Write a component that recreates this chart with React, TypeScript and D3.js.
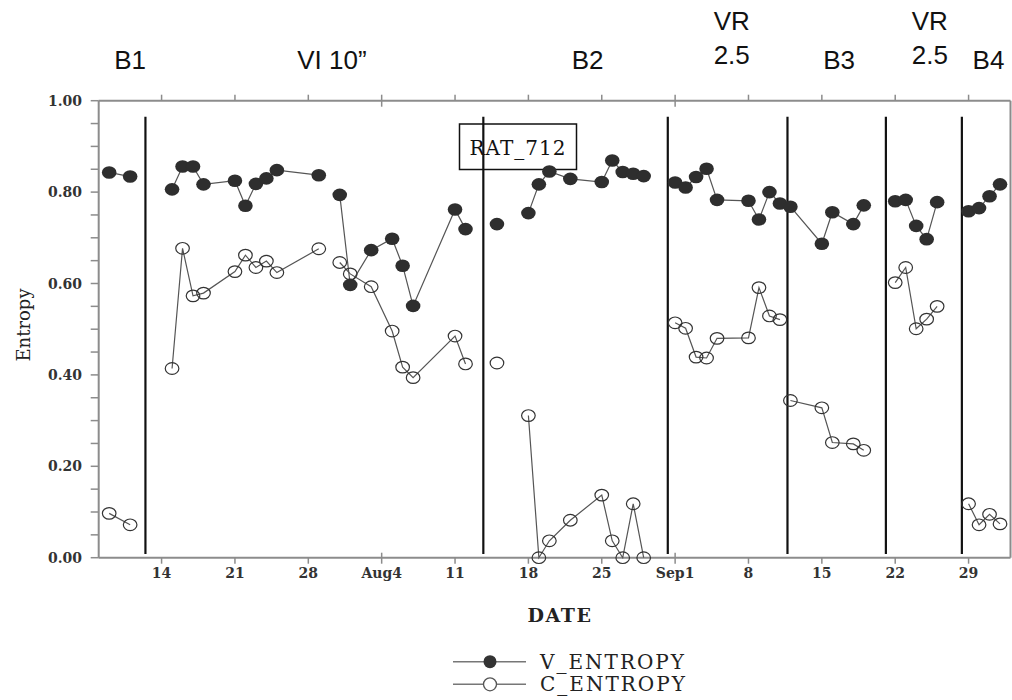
import React from "react";
import * as d3 from "d3";

// ---------- data ----------
// null entries mark a break in the connecting line
const sessionDates: (string | null)[] = [
  "07-09", "07-11", null,
  "07-15", "07-16", "07-17", "07-18", "07-21", "07-22", "07-23", "07-24", "07-25", "07-29", null,
  "07-31", "08-01", "08-03", "08-05", "08-06", "08-07", "08-11", "08-12", null,
  "08-15", null,
  "08-18", "08-19", "08-20", "08-22", "08-25", "08-26", "08-27", "08-28", "08-29", null,
  "09-01", "09-02", "09-03", "09-04", "09-05", "09-08", "09-09", "09-10", "09-11", null,
  "09-12", "09-15", "09-16", "09-18", "09-19", null,
  "09-22", "09-23", "09-24", "09-25", "09-26", null,
  "09-29", "09-30", "10-01", "10-02",
];

const vEntropy: (number | null)[] = [
  0.843, 0.834, null,
  0.806, 0.856, 0.856, 0.817, 0.825, 0.770, 0.818, 0.830, 0.848, 0.837, null,
  0.794, 0.597, 0.673, 0.698, 0.639, 0.551, 0.762, 0.719, null,
  0.730, null,
  0.754, 0.817, 0.845, 0.829, 0.822, 0.869, 0.844, 0.840, 0.835, null,
  0.821, 0.810, 0.833, 0.851, 0.783, 0.781, 0.740, 0.800, 0.775, null,
  0.768, 0.687, 0.756, 0.730, 0.771, null,
  0.780, 0.783, 0.726, 0.697, 0.778, null,
  0.758, 0.765, 0.791, 0.817,
];

const cEntropy: (number | null)[] = [
  0.097, 0.072, null,
  0.414, 0.677, 0.573, 0.579, 0.626, 0.662, 0.635, 0.649, 0.624, 0.676, null,
  0.646, 0.621, 0.593, 0.496, 0.417, 0.394, 0.485, 0.424, null,
  0.426, null,
  0.311, 0.0, 0.037, 0.082, 0.137, 0.037, 0.0, 0.118, 0.0, null,
  0.514, 0.502, 0.439, 0.437, 0.480, 0.481, 0.591, 0.529, 0.521, null,
  0.344, 0.328, 0.252, 0.249, 0.235, null,
  0.602, 0.635, 0.501, 0.522, 0.550, null,
  0.118, 0.072, 0.095, 0.074,
];

// phase change lines (day.fraction)
const phaseBoundaries = ["07-12.46", "08-13.70", "08-31.30", "09-11.72", "09-21.11", "09-28.36"];
const phaseNames = ["B1", "VI 10\u201D", "B2", "VR\n2.5", "B3", "VR\n2.5", "B4"];
const phaseLabelDates = ["07-11.0", "07-30.25", "08-23.65", "09-06.4", "09-16.65", "09-25.3", "09-30.9"];

const xTickDates = ["07-14", "07-21", "07-28", "08-04", "08-11", "08-18", "08-25", "09-01", "09-08", "09-15", "09-22", "09-29"];
const xTickLabels = ["14", "21", "28", "Aug4", "11", "18", "25", "Sep1", "8", "15", "22", "29"];
const monthStartTicks = ["08-04", "09-01"];
const yTickValues = [0, 0.2, 0.4, 0.6, 0.8, 1.0];
const yMinorValues = d3.range(0, 1.0001, 0.05);

const xDomain = ["07-08", "10-03"];
const seriesNames = ["V_ENTROPY", "C_ENTROPY"];
const boxLabel = "RAT_712";

// ---------- helpers ----------
const YEAR = 2008;
function toDate(s: string): Date {
  const [m, dRaw] = s.split("-");
  const d = parseFloat(dRaw);
  const day = Math.floor(d);
  const frac = d - day;
  return new Date(Date.UTC(YEAR, parseInt(m, 10) - 1, day) + frac * 86400000);
}

const AXIS = "#8c8c8c";
const SERIF = "'DejaVu Serif', serif";
const SANS = "'Liberation Sans', Arial, sans-serif";

export default function App() {
  const left = 98.7, right = 1010.5, top = 100.7, bottom = 557.7;
  const x = d3.scaleUtc().domain(xDomain.map(toDate)).range([left, right]);
  const y = d3.scaleLinear().domain([0, 1]).range([bottom, top]);

  type P = { d: Date; v: number | null };
  const makeSegments = (vals: (number | null)[]) => {
    const segs: { d: Date; v: number }[][] = [];
    let cur: { d: Date; v: number }[] = [];
    sessionDates.forEach((ds, i) => {
      const v = vals[i];
      if (ds === null || v === null) {
        if (cur.length) segs.push(cur);
        cur = [];
      } else {
        cur.push({ d: toDate(ds), v });
      }
    });
    if (cur.length) segs.push(cur);
    return segs;
  };
  const vSegs = makeSegments(vEntropy);
  const cSegs = makeSegments(cEntropy);
  const line = d3
    .line<{ d: Date; v: number }>()
    .x((p) => x(p.d))
    .y((p) => y(p.v));

  const monthSet = new Set(monthStartTicks);

  return (
    <svg
      width={1012}
      height={700}
      style={{ position: "absolute", left: 0, top: 0, background: "#fff" }}
    >
      <rect x={0} y={0} width={1012} height={700} fill="#fff" />

      {/* phase labels */}
      {phaseNames.map((name, i) => {
        const cx = x(toDate(phaseLabelDates[i]));
        const parts = name.split("\n");
        if (parts.length === 1)
          return (
            <text key={i} x={cx} y={69} textAnchor="middle" fontFamily={SANS} fontSize={26} fill="#111">
              {name}
            </text>
          );
        return (
          <g key={i}>
            <text x={cx} y={30} textAnchor="middle" fontFamily={SANS} fontSize={26} fill="#111">
              {parts[0]}
            </text>
            <text x={cx} y={64} textAnchor="middle" fontFamily={SANS} fontSize={26} fill="#111">
              {parts[1]}
            </text>
          </g>
        );
      })}

      {/* frame */}
      <g stroke={AXIS} strokeWidth={2} fill="none">
        <line x1={left} x2={right} y1={top} y2={top} />
        <line x1={left} x2={right} y1={bottom} y2={bottom} />
        <line x1={left} x2={left} y1={top} y2={bottom} />
        <line x1={right} x2={right} y1={top} y2={bottom} />
      </g>

      {/* x ticks */}
      {xTickDates.map((ds, i) => {
        const tx = x(toDate(ds));
        const long = monthSet.has(ds);
        return (
          <g key={ds}>
            <line x1={tx} x2={tx} y1={long ? bottom - 5 : bottom} y2={bottom + 6} stroke={AXIS} strokeWidth={1.5} />
            <line x1={tx} x2={tx} y1={top - 6} y2={long ? top + 6 : top} stroke={AXIS} strokeWidth={1.5} />
            <text
              x={tx}
              y={578}
              textAnchor="middle"
              fontFamily={SERIF}
              fontWeight="bold"
              fontSize={14}
              fill="#333"
            >
              {xTickLabels[i]}
            </text>
          </g>
        );
      })}

      {/* y ticks */}
      {yMinorValues.map((v, i) => (
        <line key={i} x1={left - 8} x2={left} y1={y(v)} y2={y(v)} stroke={AXIS} strokeWidth={1.5} />
      ))}
      {yTickValues.map((v) => (
        <text
          key={v}
          x={82}
          y={y(v) + 5}
          textAnchor="end"
          fontFamily={SERIF}
          fontWeight="bold"
          fontSize={14}
          fill="#333"
        >
          {d3.format(".2f")(v)}
        </text>
      ))}

      {/* axis titles */}
      <text
        transform={`translate(30,325) rotate(-90)`}
        textAnchor="middle"
        fontFamily={SERIF}
        fontSize={18}
        fill="#222"
      >
        Entropy
      </text>
      <text x={560} y={622} textAnchor="middle" fontFamily={SERIF} fontWeight="bold" fontSize={19} letterSpacing={1.5} fill="#222">
        DATE
      </text>

      {/* label box */}
      <rect x={459.5} y={124} width={117} height={45.5} fill="none" stroke="#111" strokeWidth={1.5} />
      <text x={518} y={155} textAnchor="middle" fontFamily={SERIF} fontSize={20} letterSpacing={1} fill="#111">
        {boxLabel}
      </text>

      {/* phase boundary lines */}
      {phaseBoundaries.map((ds) => {
        const bx = x(toDate(ds));
        return <line key={ds} x1={bx} x2={bx} y1={116.7} y2={554} stroke="#111" strokeWidth={2.2} />;
      })}

      {/* series lines */}
      {[...vSegs, ...cSegs].map((seg, i) => (
        <path key={i} d={line(seg) || ""} fill="none" stroke="#555" strokeWidth={1.2} />
      ))}

      {/* markers */}
      {vSegs.flat().map((p, i) => (
        <ellipse key={"v" + i} cx={x(p.d)} cy={y(p.v)} rx={7.3} ry={6.3} fill="#2e2e2e" />
      ))}
      {cSegs.flat().map((p, i) => (
        <ellipse key={"c" + i} cx={x(p.d)} cy={y(p.v)} rx={6.8} ry={5.8} fill="none" stroke="#333" strokeWidth={1.2} />
      ))}

      {/* legend */}
      <g>
        <line x1={453} x2={526} y1={661.7} y2={661.7} stroke="#777" strokeWidth={1.5} />
        <circle cx={490} cy={661.7} r={6.5} fill="#333" />
        <text x={540} y={668.5} fontFamily={SERIF} fontSize={20} letterSpacing={2} fill="#222">
          {seriesNames[0]}
        </text>
        <line x1={453} x2={526} y1={684.3} y2={684.3} stroke="#777" strokeWidth={1.5} />
        <circle cx={490} cy={684.3} r={6.5} fill="#fff" stroke="#555" strokeWidth={1.3} />
        <text x={540} y={691} fontFamily={SERIF} fontSize={20} letterSpacing={2} fill="#222">
          {seriesNames[1]}
        </text>
      </g>
    </svg>
  );
}
